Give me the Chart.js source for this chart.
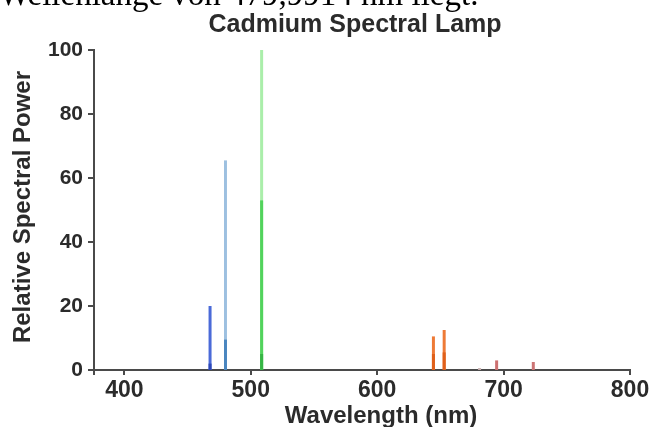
<!DOCTYPE html>
<html>
<head>
<meta charset="utf-8">
<title>Cadmium Spectral Lamp</title>
<script src="https://cdn.jsdelivr.net/npm/chart.js@4/dist/chart.umd.min.js"></script>
<style>
  html, body { margin: 0; padding: 0; background: #fff; }
  #wrap { position: relative; width: 653px; height: 427px; overflow: hidden; }
</style>
</head>
<body>
<div id="wrap"><canvas id="chart" width="653" height="427"></canvas></div>
<script>
/* Cadmium spectral lamp — emission lines as vertical strokes. */
(function () {
  "use strict";

  // ---- data
  const lineNm    = [467.8, 467.8, 480.0, 480.0, 508.6, 508.6, 508.6, 644.5, 644.5, 653.0, 653.0, 681.0, 694.5, 723.5];
  const linePower = [20,    2,     65.5,  9.5,   100,   53,    5,     10.5,  5,     12.5,  5.5,   0.6,   3,     2.5];
  const lineColor = ["#4a6ad8", "#2c47b8", "#9dc0e0", "#4a86bf", "#aaeeaa", "#52d35c", "#36b544",
    "#ee7a36", "#e0601a", "#ee7a36", "#e0601a", "#c8b0b0", "#cc7070", "#cc7474"];
  const xTicks = [400, 500, 600, 700, 800];
  const yTicks = [0, 20, 40, 60, 80, 100];

  const TITLE = "Cadmium Spectral Lamp";
  const X_TITLE = "Wavelength (nm)";
  const Y_TITLE = "Relative Spectral Power";
  const PAGE_TEXT = "Wellenlänge von 479,9914 nm liegt.";

  const SANS = "'Liberation Sans', Arial, sans-serif";
  const INK = "#2b2b2b";
  const AXIS = "#4a4a4a";

  // titles drawn at their measured spots
  const texts = {
    id: "texts",
    afterDraw(chart) {
      const ctx = chart.ctx, a = chart.chartArea;
      ctx.save();
      ctx.fillStyle = "#000";
      ctx.font = "33px 'Liberation Serif', 'Times New Roman', serif";
      ctx.textAlign = "left"; ctx.textBaseline = "alphabetic";
      ctx.fillText(PAGE_TEXT, -1, 5);

      ctx.fillStyle = INK;
      ctx.font = "bold 25px " + SANS;
      ctx.textAlign = "center";
      ctx.fillText(TITLE, 355, 32);

      ctx.font = "bold 24px " + SANS;
      ctx.fillText(X_TITLE, 381, 423);

      ctx.translate(30, (a.top + a.bottom) / 2 - 3);
      ctx.rotate(-Math.PI / 2);
      ctx.font = "bold 24px " + SANS;
      ctx.fillText(Y_TITLE, 0, 0);
      ctx.restore();
    },
  };

  const datasets = lineNm.map((w, i) => ({
    data: [{ x: w, y: 0 }, { x: w, y: linePower[i] }],
    borderColor: lineColor[i],
    borderWidth: 3,
    pointRadius: 0,
    showLine: true,
    order: linePower[i],
  }));

  new Chart(document.getElementById("chart"), {
    type: "scatter",
    data: { datasets },
    plugins: [texts],
    options: {
      responsive: false,
      animation: false,
      layout: { padding: { top: 50, right: 23, bottom: 0, left: 0 } },
      plugins: { legend: { display: false }, tooltip: { enabled: false } },
      scales: {
        x: {
          type: "linear", min: 376, max: 800,
          afterBuildTicks: (s) => { s.ticks = [s.min, ...xTicks].map(v => ({ value: v })); },
          afterFit: (s) => { s.height = 57; },
          ticks: {
            callback: (v) => xTicks.includes(v) ? String(v) : "",
            color: INK, padding: 2, maxRotation: 0,
            font: { family: SANS, size: 23, weight: "bold" },
          },
          grid: { drawOnChartArea: false, tickLength: 5, color: AXIS, lineWidth: 2 },
          border: { color: AXIS, width: 2 },
        },
        y: {
          min: 0, max: 100,
          afterBuildTicks: (s) => { s.ticks = yTicks.map(v => ({ value: v })); },
          afterFit: (s) => { s.width = 94; },
          ticks: {
            color: INK, padding: 5,
            font: { family: SANS, size: 21, weight: "bold" },
          },
          grid: { drawOnChartArea: false, tickLength: 6, color: AXIS, lineWidth: 2 },
          border: { color: AXIS, width: 2 },
        },
      },
    },
  });
})();
</script>
</body>
</html>
